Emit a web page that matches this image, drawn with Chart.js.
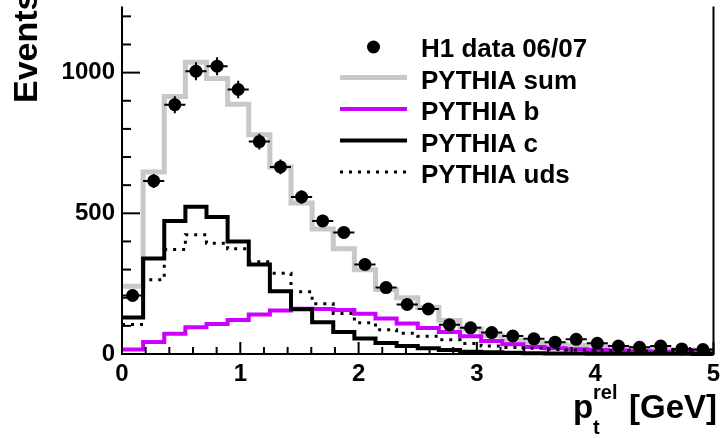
<!DOCTYPE html>
<html>
<head>
<meta charset="utf-8">
<script src="https://cdn.jsdelivr.net/npm/chart.js@4.4.1/dist/chart.umd.min.js"></script>
<style>
  html, body { margin: 0; padding: 0; background: #fff; }
  #wrap { width: 720px; height: 438px; }
</style>
</head>
<body>
<div id="wrap"><canvas id="ptrel" width="720" height="438"></canvas></div>
<script>
// p_t^rel spectrum, 28 equal bins between 0 and 5 GeV
const X_MIN = 0;
const X_MAX = 5;
const N_BINS = 28;
const Y_MAX = 1235;

const xTicks = [0, 1, 2, 3, 4, 5];
const xTickLabels = ['0', '1', '2', '3', '4', '5'];
const yTicks = [0, 500, 1000];
const yTickLabels = ['0', '500', '1000'];

// measured events per bin and their statistical errors
const h1Data = [208, 615, 886, 1005, 1023, 940, 755, 665, 558, 473, 432, 318, 236, 176,
                160, 104, 93, 76, 64, 54, 42, 52, 38, 28, 24, 28, 18, 16];
const h1Err = [15, 25, 30, 32, 32, 31, 28, 26, 24, 22, 21, 18, 15, 13,
               13, 10, 10, 9, 8, 7, 6, 7, 6, 5, 5, 5, 4, 4];

// MC expectations per bin
const pythiaSum = [241, 647, 915, 1037, 979, 888, 779, 665, 537, 444, 374, 299, 229, 200,
                   165, 119, 90, 66, 49, 40, 35, 30, 26, 22, 19, 16, 14, 12];
const pythiaB = [16, 43, 72, 95, 107, 121, 140, 155, 161, 160, 156, 143, 126, 108,
                 92, 78, 63, 46, 35, 25, 20, 17, 14, 12, 10, 8, 7, 6];
const pythiaC = [130, 339, 473, 523, 487, 400, 318, 223, 159, 113, 78, 55, 39, 28,
                 20, 14, 8, 6, 4, 3, 2, 2, 1, 1, 1, 0.5, 0.5, 0.3];
const pythiaUds = [105, 264, 371, 424, 394, 374, 328, 287, 221, 179, 144, 111, 86, 74,
                   63, 51, 37, 28, 23, 20, 16, 14, 13, 12, 11, 10, 9, 8];

const legendLabels = ['H1 data 06/07', 'PYTHIA sum', 'PYTHIA b', 'PYTHIA c', 'PYTHIA uds'];

const GRAY = 'rgb(200,200,200)';
const MAGENTA = 'rgb(204,0,255)';
const FONT = '"Liberation Sans", Arial, Helvetica, sans-serif';

const binWidth = (X_MAX - X_MIN) / N_BINS;
const binEdges = Array.from({ length: N_BINS + 1 }, (_, i) => X_MIN + i * binWidth);

// outline points: left edge of each bin, plus the closing right edge
function histPoints(values) {
    const pts = values.map((v, i) => ({ x: binEdges[i], y: v }));
    pts.push({ x: binEdges[N_BINS], y: values[N_BINS - 1] });
    return pts;
}

function histDataset(label, values, color, width, order, dash) {
    return {
        label: label,
        data: histPoints(values),
        borderColor: color,
        borderWidth: width,
        borderDash: dash || [],
        borderCapStyle: 'butt',
        borderJoinStyle: 'miter',
        stepped: 'before',
        pointRadius: 0,
        fill: false,
        clip: false,
        order: order
    };
}

// ROOT style frame: axes, inward ticks, error bars, legend and titles
const rootFrame = {
    id: 'rootFrame',
    afterDatasetsDraw(chart) {
        const ctx = chart.ctx;
        const xs = chart.scales.x;
        const ys = chart.scales.y;
        const area = chart.chartArea;

        ctx.save();

        // data error bars
        ctx.strokeStyle = '#000';
        ctx.lineWidth = 2;
        h1Data.forEach((v, i) => {
            const cx = xs.getPixelForValue(binEdges[i] + binWidth / 2);
            const cy = ys.getPixelForValue(v);
            ctx.beginPath();
            ctx.moveTo(xs.getPixelForValue(binEdges[i]), cy);
            ctx.lineTo(xs.getPixelForValue(binEdges[i + 1]), cy);
            ctx.moveTo(cx, ys.getPixelForValue(v - h1Err[i]));
            ctx.lineTo(cx, ys.getPixelForValue(v + h1Err[i]));
            ctx.stroke();
        });

        // frame
        ctx.lineWidth = 2;
        ctx.beginPath();
        ctx.moveTo(area.left, area.top);
        ctx.lineTo(area.left, area.bottom);
        ctx.lineTo(area.right, area.bottom);
        ctx.lineTo(area.right, area.top);
        ctx.stroke();

        // x ticks: major every 1, minor every 0.2
        for (let k = 0; k <= 25; k++) {
            const px = xs.getPixelForValue(k * 0.2);
            const len = k % 5 === 0 ? 12 : 7;
            ctx.beginPath();
            ctx.moveTo(px, area.bottom);
            ctx.lineTo(px, area.bottom - len);
            ctx.stroke();
        }
        // y ticks: major every 500, minor every 100
        for (let v = 0; v <= Y_MAX; v += 100) {
            const py = ys.getPixelForValue(v);
            const len = v % 500 === 0 ? 18 : 9;
            ctx.beginPath();
            ctx.moveTo(area.left, py);
            ctx.lineTo(area.left + len, py);
            ctx.stroke();
        }

        // legend
        const lx0 = 340, lx1 = 407, tx = 421;
        const baselines = [57, 88.5, 120, 151.5, 183];
        ctx.fillStyle = '#000';
        ctx.font = 'bold 26px ' + FONT;
        ctx.textAlign = 'left';
        ctx.textBaseline = 'alphabetic';
        legendLabels.forEach((txt, i) => ctx.fillText(txt, tx, baselines[i]));

        ctx.beginPath();
        ctx.arc((lx0 + lx1) / 2, baselines[0] - 10, 6.5, 0, Math.PI * 2);
        ctx.fill();

        const sym = [
            { color: GRAY, width: 5, dash: [] },
            { color: MAGENTA, width: 4, dash: [] },
            { color: '#000', width: 4, dash: [] },
            { color: '#000', width: 3, dash: [3, 6] }
        ];
        sym.forEach((s, i) => {
            const y = baselines[i + 1] - 11;
            ctx.strokeStyle = s.color;
            ctx.lineWidth = s.width;
            ctx.setLineDash(s.dash);
            ctx.beginPath();
            ctx.moveTo(lx0, y);
            ctx.lineTo(lx1, y);
            ctx.stroke();
        });
        ctx.setLineDash([]);

        // y title
        ctx.save();
        ctx.translate(37, 103);
        ctx.rotate(-Math.PI / 2);
        ctx.font = 'bold 34px ' + FONT;
        ctx.fillText('Events', 0, 0);
        ctx.restore();

        // x title: p_t^rel [GeV]
        ctx.font = 'bold 33px ' + FONT;
        ctx.fillText('p', 573, 418);
        ctx.textAlign = 'right';
        ctx.fillText('[GeV]', 717, 418);
        ctx.textAlign = 'left';
        ctx.font = 'bold 20px ' + FONT;
        ctx.fillText('rel', 593, 399);
        ctx.fillText('t', 593, 434);

        ctx.restore();
    }
};

function zeroPadding(scale) {
    scale.paddingLeft = 0;
    scale.paddingRight = 0;
    scale.paddingTop = 0;
    scale.paddingBottom = 0;
}

const chart = new Chart(document.getElementById('ptrel').getContext('2d'), {
    type: 'line',
    data: {
        datasets: [
            {
                label: legendLabels[0],
                data: h1Data.map((v, i) => ({ x: binEdges[i] + binWidth / 2, y: v })),
                showLine: false,
                pointRadius: 6.5,
                pointStyle: 'circle',
                pointBackgroundColor: '#000',
                pointBorderWidth: 0,
                clip: false,
                order: 0
            },
            histDataset(legendLabels[4], pythiaUds, '#000', 3, 1, [3, 6]),
            histDataset(legendLabels[3], pythiaC, '#000', 4, 2),
            histDataset(legendLabels[2], pythiaB, MAGENTA, 4, 3),
            histDataset(legendLabels[1], pythiaSum, GRAY, 5, 4)
        ]
    },
    options: {
        responsive: false,
        animation: false,
        events: [],
        devicePixelRatio: 1,
        layout: { padding: { left: 0, right: 3, top: 0, bottom: 0 } },
        plugins: {
            legend: { display: false },
            tooltip: { enabled: false },
            title: { display: false }
        },
        scales: {
            x: {
                type: 'linear',
                min: X_MIN,
                max: X_MAX,
                grid: { display: false, drawTicks: false },
                border: { display: false },
                afterBuildTicks: (scale) => { scale.ticks = xTicks.map(v => ({ value: v })); },
                afterFit: (scale) => { scale.height = 84; zeroPadding(scale); },
                ticks: {
                    padding: 6,
                    maxRotation: 0,
                    autoSkip: false,
                    color: '#000',
                    font: { family: FONT, size: 24, weight: 'bold' },
                    callback: (v, i) => xTickLabels[i]
                }
            },
            y: {
                type: 'linear',
                min: 0,
                max: Y_MAX,
                grid: { display: false, drawTicks: false },
                border: { display: false },
                afterBuildTicks: (scale) => { scale.ticks = yTicks.map(v => ({ value: v })); },
                afterFit: (scale) => { scale.width = 122; zeroPadding(scale); },
                ticks: {
                    padding: 7,
                    autoSkip: false,
                    color: '#000',
                    font: { family: FONT, size: 24, weight: 'bold' },
                    callback: (v, i) => yTickLabels[i]
                }
            }
        }
    },
    plugins: [rootFrame]
});
</script>
</body>
</html>
